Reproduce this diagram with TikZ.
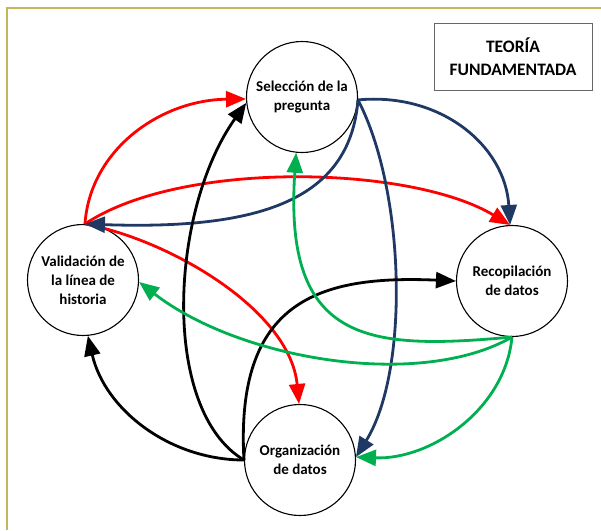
\documentclass[tikz,border=0pt]{standalone}
\usepackage{fontspec}
\setmainfont{Carlito}
\usetikzlibrary{arrows.meta}
\definecolor{navyb}{RGB}{31,56,100}
\definecolor{grn}{RGB}{0,176,80}
\definecolor{framec}{RGB}{196,183,90}
\begin{document}
\begin{tikzpicture}[x=1pt,y=-1pt,
 stage/.style={circle,draw=black,line width=1.1pt,minimum size=111pt,inner sep=0pt,align=center,font=\fontsize{15}{19}\selectfont\bfseries},
 conn/.style={line width=2.8pt,-{Triangle[length=20pt,width=16pt]}},
 titlebox/.style={draw=black!60,line width=0.9pt,minimum width=158pt,minimum height=67pt,align=center,font=\fontsize{17.5}{23}\selectfont\bfseries},
]
\useasboundingbox (0,0) rectangle (601,530);
\draw[framec,line width=2pt] (7,530) -- (7,8) -- (601,8);

\node[titlebox] (title) at (513,56.5) {TEORÍA\\FUNDAMENTADA};

\node[stage] (sel) at (302,97) {Selección de la\\pregunta};
\node[stage] (val) at (83,280) {Validación de\\la línea de\\historia};
\node[stage] (rec) at (512,281) {Recopilación\\de datos};
\node[stage] (org) at (300,460) {Organización\\de datos};

% red
\draw[conn,red] (val.88) .. controls (90,150) and (160,100) .. (sel.182);
\draw[conn,red] (val.88) .. controls (180,160) and (410,165) .. (rec.92);
\draw[conn,red] (val.88) .. controls (170,240) and (290,310) .. (org.91);
% navy
\draw[conn,navyb] (sel.-3) .. controls (440,92) and (505,145) .. (rec.92);
\draw[conn,navyb] (sel.-3) .. controls (405,190) and (410,370) .. (org.3);
\draw[conn,navyb] (sel.-3) .. controls (350,200) and (260,230) .. (val.88);
% black
\draw[conn,black] (org.180) .. controls (160,410) and (170,210) .. (sel.186);
\draw[conn,black] (org.180) .. controls (170,460) and (105,410) .. (val.275);
\draw[conn,black] (org.180) .. controls (235,300) and (320,275) .. (rec.180);
% green
\draw[conn,grn] (rec.270) .. controls (370,350) and (283,345) .. (sel.264);
\draw[conn,grn] (rec.270) .. controls (420,390) and (240,360) .. (val.358);
\draw[conn,grn] (rec.270) .. controls (505,410) and (430,460) .. (org.3);
\end{tikzpicture}
\end{document}
